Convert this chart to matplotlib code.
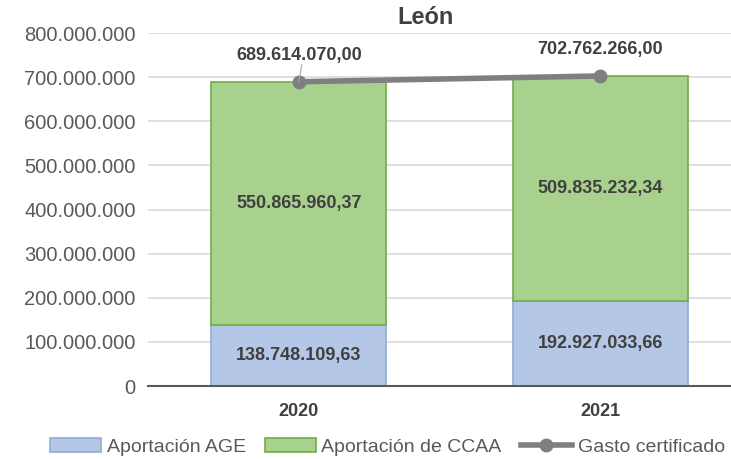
import matplotlib.pyplot as plt
from matplotlib.ticker import FuncFormatter

plt.rcParams['font.family'] = ['Liberation Sans', 'DejaVu Sans']

anios = ['2020', '2021']
aport_age = [138748109.63, 192927033.66]
aport_ccaa = [550865960.37, 509835232.34]
gasto = [689614070.00, 702762266.00]


def fmt_es(v, dec=2):
    s = f"{v:,.{dec}f}"
    return s.replace(',', '#').replace('.', ',').replace('#', '.')


fig = plt.figure(figsize=(7.31, 4.59), dpi=100)
ax = fig.add_axes([0.2025, 0.159, 0.825, 0.769])

x = list(range(len(anios)))
b1 = ax.bar(x, aport_age, width=0.58, color='#B4C7E7', edgecolor='#8FAADC', linewidth=1.2,
            label='Aportación AGE', zorder=2)
b2 = ax.bar(x, aport_ccaa, width=0.58, bottom=aport_age, color='#A9D18E', edgecolor='#70AD47',
            linewidth=1.2, label='Aportación de CCAA', zorder=2)
l1, = ax.plot(x, gasto, color='#7F7F7F', linewidth=4, marker='o', markersize=9,
              label='Gasto certificado', zorder=3)

col_txt = '#404040'
for i in x:
    ax.text(i, aport_age[i] / 2, fmt_es(aport_age[i]), ha='center', va='center',
            fontsize=13, fontweight='bold', color=col_txt, zorder=4)
    ax.text(i, aport_age[i] + aport_ccaa[i] / 2, fmt_es(aport_ccaa[i]), ha='center',
            va='center', fontsize=13, fontweight='bold', color=col_txt, zorder=4)

# etiquetas de la linea
ax.text(0, 750e6, fmt_es(gasto[0]), ha='center', va='center', fontsize=13,
        fontweight='bold', color=col_txt, zorder=4)
ax.plot([0.01, 0], [728e6, gasto[0]], color='#A6A6A6', linewidth=0.8, zorder=3)
ax.text(1, 763e6, fmt_es(gasto[1]), ha='center', va='center', fontsize=13,
        fontweight='bold', color=col_txt, zorder=4)

ax.set_xlim(-0.5, 1.5)
ax.set_ylim(0, 800e6)
ax.set_yticks(range(0, 800000001, 100000000))
ax.yaxis.set_major_formatter(FuncFormatter(lambda v, p: fmt_es(v, 0)))
ax.set_xticks(x)
ax.set_xticklabels(anios, fontweight='bold', color=col_txt)
ax.tick_params(axis='y', length=0, labelsize=14.5, labelcolor='#595959', pad=9)
ax.tick_params(axis='x', length=0, labelsize=13, pad=12)
ax.grid(axis='y', color='#D9D9D9', linewidth=1.2, zorder=0)
ax.set_axisbelow(True)
for s in ['top', 'right', 'left']:
    ax.spines[s].set_visible(False)
ax.spines['bottom'].set_color('#595959')
ax.spines['bottom'].set_linewidth(1.5)
ax.spines['bottom'].set_zorder(5)

fig.text(0.582, 0.962, 'León', ha='center', va='center', fontsize=17,
         fontweight='bold', color=col_txt)

fig.legend([b1, b2, l1], ['Aportación AGE', 'Aportación de CCAA', 'Gasto certificado'],
           loc='center', bbox_to_anchor=(0.53, 0.027), ncol=3, frameon=False,
           fontsize=14, handlelength=2.6, handleheight=0.8, columnspacing=1.0,
           handletextpad=0.3, labelcolor='#595959')

fig.savefig('out.png', dpi=100)
